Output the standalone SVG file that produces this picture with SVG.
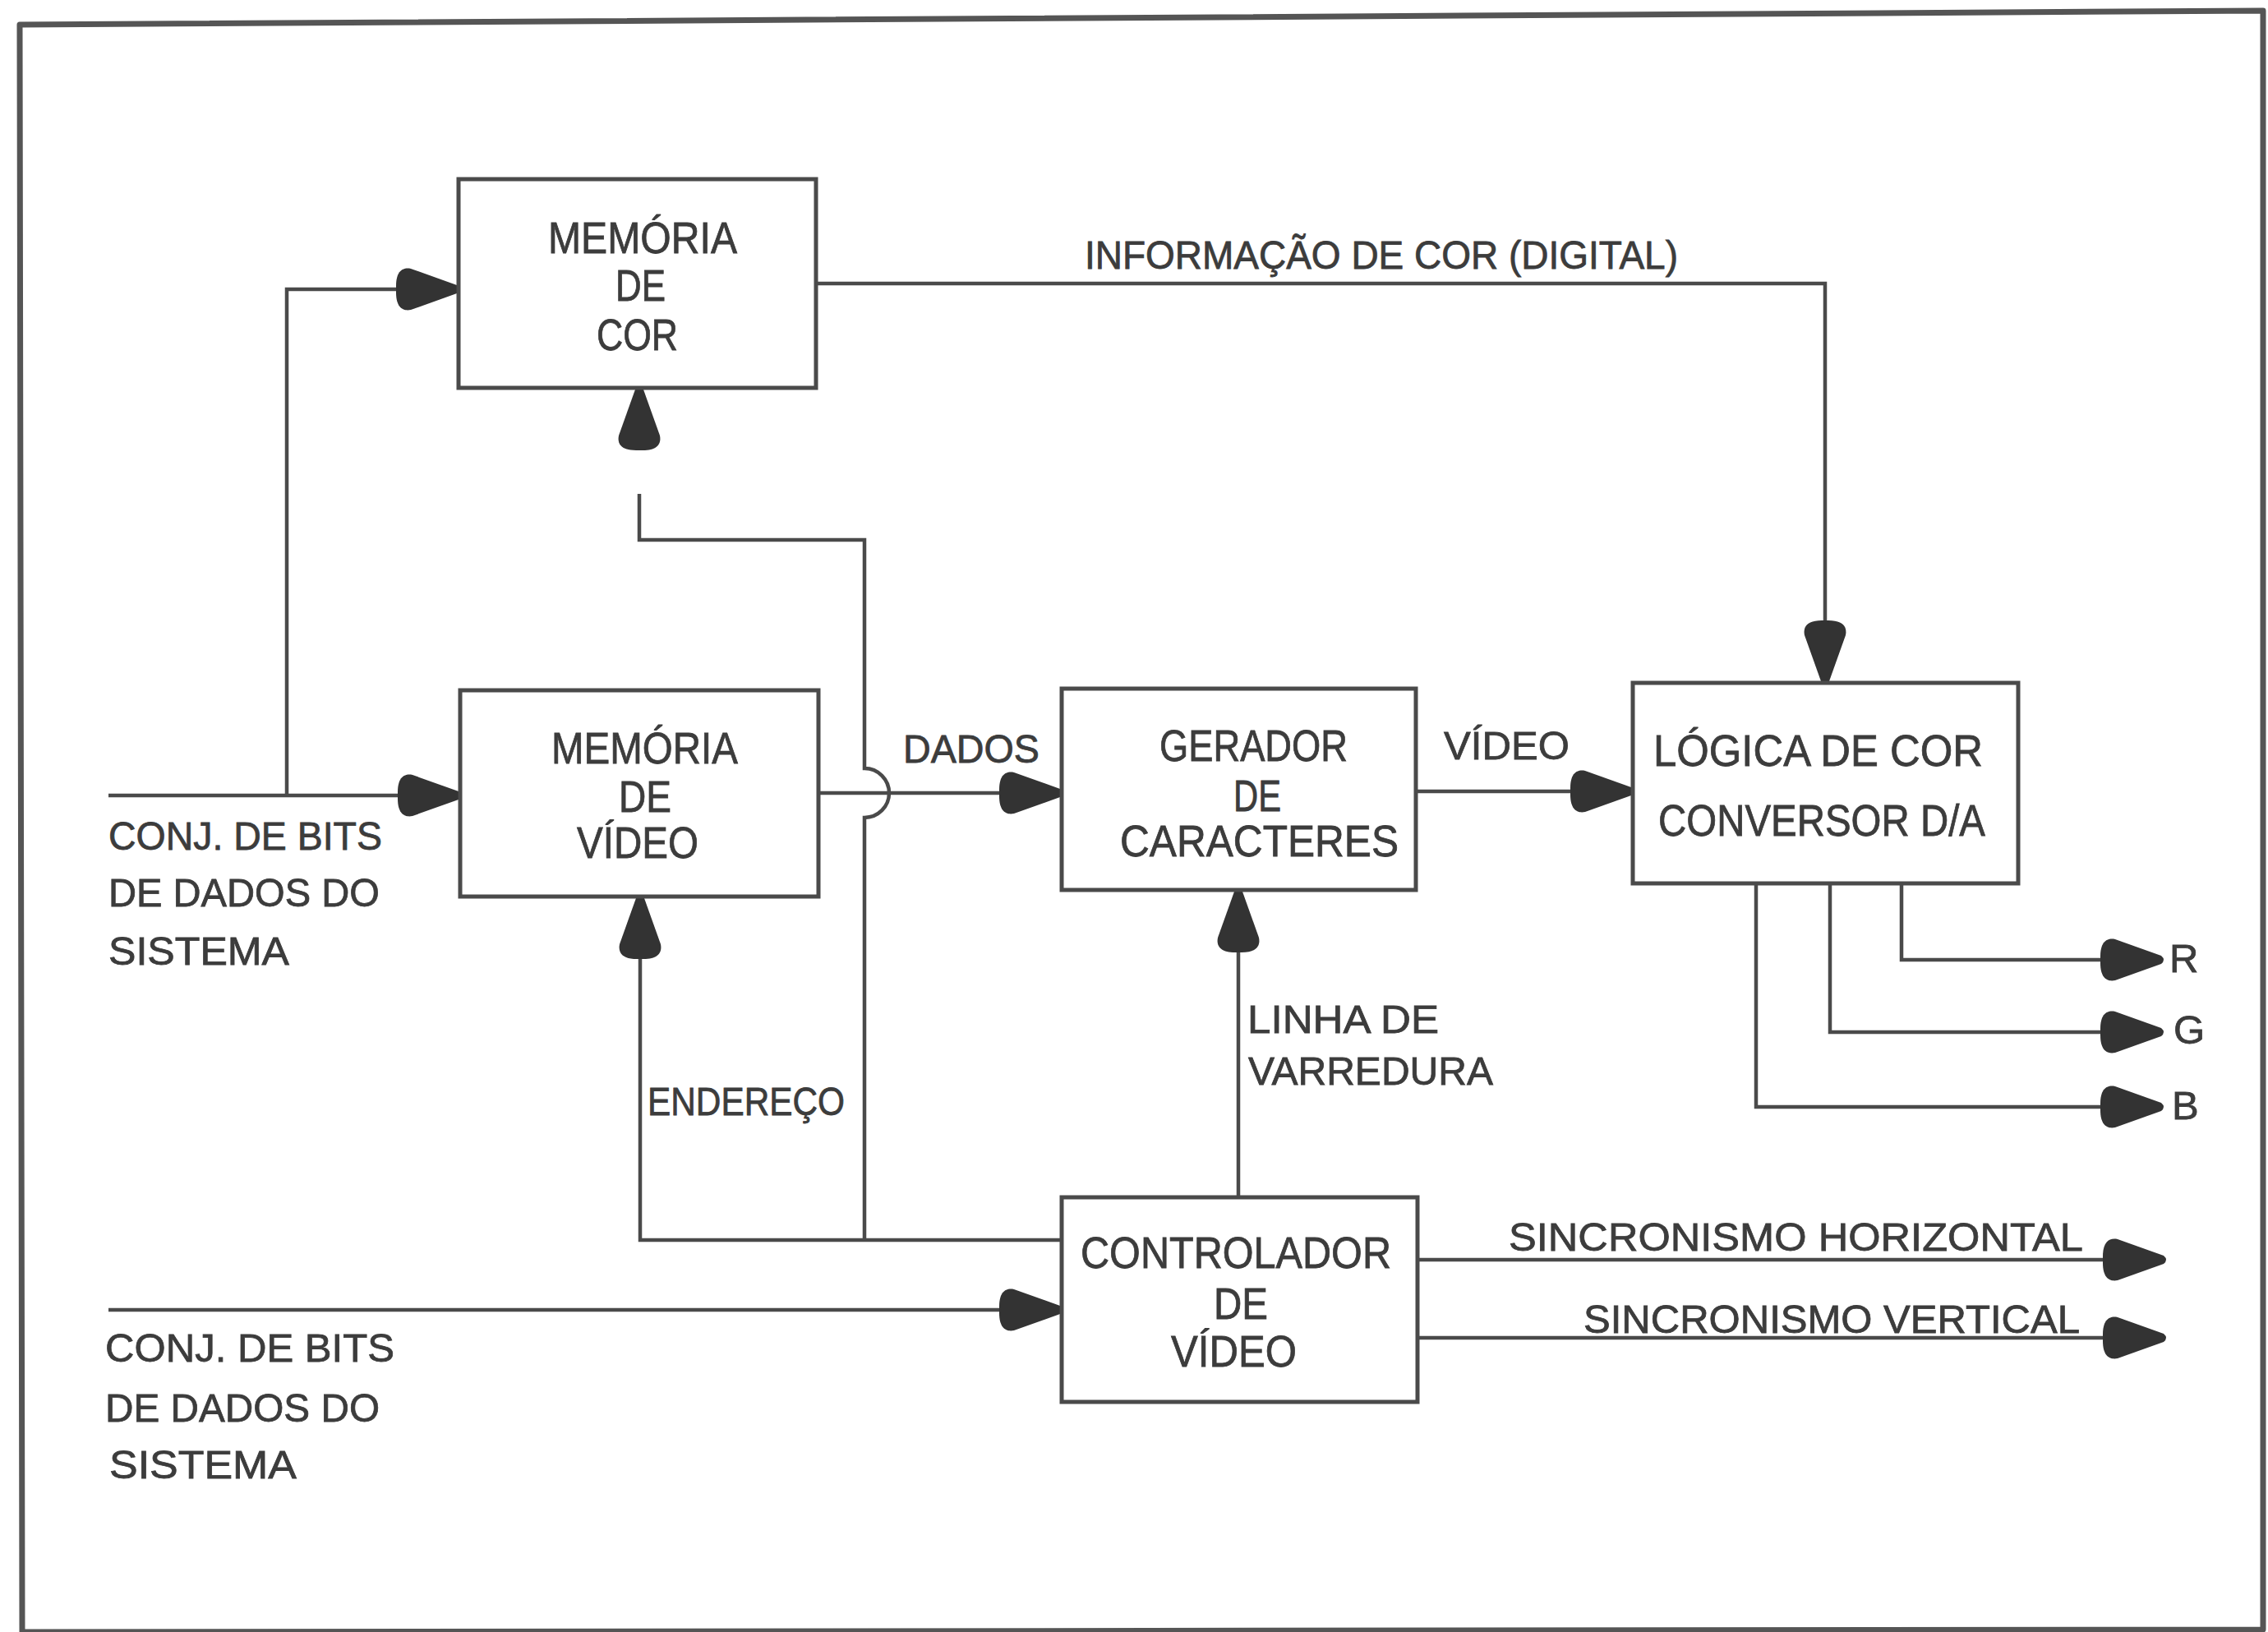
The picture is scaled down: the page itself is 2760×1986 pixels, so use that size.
<svg xmlns="http://www.w3.org/2000/svg" width="2760" height="1986" viewBox="0 0 2760 1986">
<defs>
<style>
.frame{fill:none;stroke:#555;stroke-width:7;stroke-linejoin:round}
.box{fill:none;stroke:#4a4a4a;stroke-width:5}
.ln{fill:none;stroke:#4a4a4a;stroke-width:4.5}
.arw{marker-end:url(#ah)}
text{font-family:"Liberation Sans",Arial,sans-serif;fill:#3c3c3c;stroke:#3c3c3c;stroke-width:0.8}
.t{font-size:53px}
.l{font-size:49px}
</style>
<marker id="ah" markerUnits="userSpaceOnUse" markerWidth="90" markerHeight="64" viewBox="-4 -32 90 64" refX="76" refY="0" orient="auto">
<path d="M0,-4 C0,-22 8,-27 18,-25 L74,-5 Q80,0 74,5 L18,25 C8,27 0,22 0,4 Z" fill="#333"/>
</marker>
</defs>
<rect width="2760" height="1986" fill="#fff"/>
<polygon class="frame" points="24,30 2754,13 2754,1983 27,1986"/>

<g id="connectors">
<path class="ln arw" d="M132,968 H560"/>
<path class="ln arw" d="M349,968 V352 H558"/>
<path class="ln arw" d="M993,345 H2221 V831"/>
<path class="ln arw" d="M996,965 H1292"/>
<path class="ln arw" d="M1723,963 H1987"/>
<path class="ln" d="M1052,1509 V995 A30,30 0 0 0 1052,935 V657 H778 V601"/>
<path class="ln arw" d="M778,540 V472"/>
<path class="ln arw" d="M1292,1509 H779 V1091"/>
<path class="ln arw" d="M1507,1457 V1083"/>
<path class="ln arw" d="M132,1594 H1292"/>
<path class="ln arw" d="M1725,1533 H2635"/>
<path class="ln arw" d="M1725,1628 H2635"/>
<path class="ln arw" d="M2314,1075 V1168 H2632"/>
<path class="ln arw" d="M2227,1075 V1256 H2632"/>
<path class="ln arw" d="M2137,1075 V1347 H2632"/>
</g>

<g id="memoria-cor">
<rect class="box" x="558" y="218" width="435" height="254"/>
<text class="t" x="667" y="308" textLength="230" lengthAdjust="spacingAndGlyphs">MEMÓRIA</text>
<text class="t" x="749" y="366" textLength="61" lengthAdjust="spacingAndGlyphs">DE</text>
<text class="t" x="726" y="426" textLength="99" lengthAdjust="spacingAndGlyphs">COR</text>
</g>

<g id="memoria-video">
<rect class="box" x="560" y="840" width="436" height="251"/>
<text class="t" x="671" y="929" textLength="227" lengthAdjust="spacingAndGlyphs">MEMÓRIA</text>
<text class="t" x="753" y="988" textLength="64" lengthAdjust="spacingAndGlyphs">DE</text>
<text class="t" x="702" y="1044" textLength="148" lengthAdjust="spacingAndGlyphs">VÍDEO</text>
</g>

<g id="gerador">
<rect class="box" x="1292" y="838" width="431" height="245"/>
<text class="t" x="1411" y="926" textLength="229" lengthAdjust="spacingAndGlyphs">GERADOR</text>
<text class="t" x="1501" y="987" textLength="58" lengthAdjust="spacingAndGlyphs">DE</text>
<text class="t" x="1363" y="1042" textLength="339" lengthAdjust="spacingAndGlyphs">CARACTERES</text>
</g>

<g id="logica">
<rect class="box" x="1987" y="831" width="469" height="244"/>
<text class="t" x="2012" y="932" textLength="401" lengthAdjust="spacingAndGlyphs">LÓGICA DE  COR</text>
<text class="t" x="2018" y="1017" textLength="398" lengthAdjust="spacingAndGlyphs">CONVERSOR D/A</text>
</g>

<g id="controlador">
<rect class="box" x="1292" y="1457" width="433" height="249"/>
<text class="t" x="1315" y="1543" textLength="378" lengthAdjust="spacingAndGlyphs">CONTROLADOR</text>
<text class="t" x="1477" y="1605" textLength="66" lengthAdjust="spacingAndGlyphs">DE</text>
<text class="t" x="1425" y="1663" textLength="153" lengthAdjust="spacingAndGlyphs">VÍDEO</text>
</g>

<g id="labels">
<text class="l" x="1320" y="327" textLength="722" lengthAdjust="spacingAndGlyphs">INFORMAÇÃO DE COR (DIGITAL)</text>
<text class="l" x="1099" y="928" textLength="166" lengthAdjust="spacingAndGlyphs">DADOS</text>
<text class="l" x="1757" y="924" textLength="153" lengthAdjust="spacingAndGlyphs">VÍDEO</text>
<text class="l" x="1518" y="1257" textLength="233" lengthAdjust="spacingAndGlyphs">LINHA DE</text>
<text class="l" x="1519" y="1320" textLength="298" lengthAdjust="spacingAndGlyphs">VARREDURA</text>
<text class="l" x="788" y="1357" textLength="240" lengthAdjust="spacingAndGlyphs">ENDEREÇO</text>
<text class="l" x="1836" y="1522" textLength="699" lengthAdjust="spacingAndGlyphs">SINCRONISMO HORIZONTAL</text>
<text class="l" x="1927" y="1622" textLength="604" lengthAdjust="spacingAndGlyphs">SINCRONISMO VERTICAL</text>
<text class="l" x="2640" y="1183">R</text>
<text class="l" x="2645" y="1270">G</text>
<text class="l" x="2643" y="1362">B</text>
<text class="l" x="132" y="1034" textLength="333" lengthAdjust="spacingAndGlyphs">CONJ. DE BITS</text>
<text class="l" x="132" y="1103" textLength="330" lengthAdjust="spacingAndGlyphs">DE DADOS DO</text>
<text class="l" x="132" y="1174" textLength="220" lengthAdjust="spacingAndGlyphs">SISTEMA</text>
<text class="l" x="128" y="1657" textLength="352" lengthAdjust="spacingAndGlyphs">CONJ. DE BITS</text>
<text class="l" x="128" y="1730" textLength="334" lengthAdjust="spacingAndGlyphs">DE DADOS DO</text>
<text class="l" x="133" y="1799" textLength="228" lengthAdjust="spacingAndGlyphs">SISTEMA</text>
</g>
</svg>
